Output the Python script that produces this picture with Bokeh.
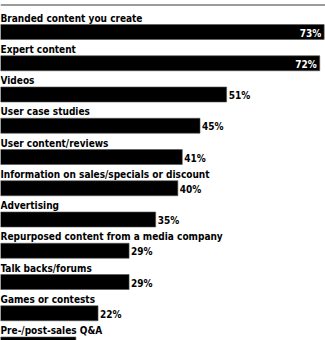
from bokeh.plotting import figure
from bokeh.models import Range1d, ColumnDataSource
from bokeh.core.properties import value
from bokeh.embed import file_html
from bokeh.resources import INLINE

categories = [
    "Branded content you create",
    "Expert content",
    "Videos",
    "User case studies",
    "User content/reviews",
    "Information on sales/specials or discount",
    "Advertising",
    "Repurposed content from a media company",
    "Talk backs/forums",
    "Games or contests",
    "Pre-/post-sales Q&A",
]
values = [73, 72, 51, 45, 41, 40, 35, 29, 29, 22, 17]
pct_labels = [f"{v}%" for v in values]

W, H = 325, 340
PITCH = 31.25
top_val = -31.5 / PITCH
bottom_val = top_val + H / PITCH
FONT = value("DejaVu Sans Condensed")

p = figure(width=W, height=H, output_backend="svg", toolbar_location=None,
           title=None,
           x_range=Range1d(0, 73.3), y_range=Range1d(bottom_val, top_val),
           min_border=0, min_border_left=0, min_border_right=0,
           min_border_top=0, min_border_bottom=0)
p.axis.visible = False
p.grid.visible = False
p.outline_line_color = None
p.background_fill_color = "white"

idx = list(range(len(categories)))
src = ColumnDataSource(dict(y=idx, v=values, cat=categories, lab=pct_labels,
                            ly=[i - 14.0 / PITCH for i in idx]))

rule_y = top_val + 4.5 / PITCH
p.segment(x0=[0], x1=[73.3], y0=[rule_y], y1=[rule_y],
          line_color="#7a7a7a", line_width=1.5)

p.hbar(y="y", left=0, right="v", height=15 / PITCH, source=src,
       fill_color="black", line_color="#555555", line_width=0.6)

p.text(x=0, y="ly", text="cat", source=src, x_offset=0,
       text_font=FONT, text_font_style="bold", text_font_size="10px",
       text_color="black", text_baseline="alphabetic", text_align="left")

inside = [i for i, v in enumerate(values) if v >= 70]
outside = [i for i, v in enumerate(values) if v < 70]
src_in = ColumnDataSource(dict(y=[idx[i] for i in inside], v=[values[i] for i in inside],
                               lab=[pct_labels[i] for i in inside]))
src_out = ColumnDataSource(dict(y=[idx[i] for i in outside], v=[values[i] for i in outside],
                                lab=[pct_labels[i] for i in outside]))
p.text(x="v", y="y", text="lab", source=src_in, x_offset=-3, y_offset=1,
       text_font=FONT, text_font_style="bold", text_font_size="10px",
       text_color="white", text_baseline="middle", text_align="right")
p.text(x="v", y="y", text="lab", source=src_out, x_offset=2, y_offset=1,
       text_font=FONT, text_font_style="bold", text_font_size="10px",
       text_color="black", text_baseline="middle", text_align="left")

open("out.html", "w").write(file_html(p, INLINE))
